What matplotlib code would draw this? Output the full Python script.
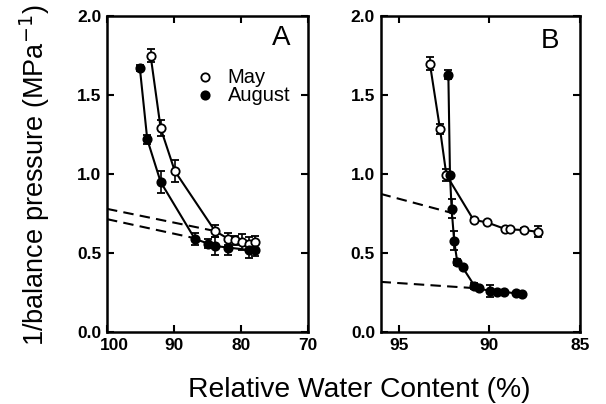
import matplotlib
matplotlib.use("Agg")
import matplotlib.pyplot as plt
import matplotlib.transforms as mtransforms

plt.rcParams['font.family'] = ['Liberation Sans', 'DejaVu Sans']

# Panel A data
a_may_x = [93.5, 92.0, 89.9, 83.9, 81.9, 80.9, 79.9, 78.9, 78.0]
a_may_y = [1.75, 1.29, 1.02, 0.64, 0.59, 0.58, 0.57, 0.56, 0.57]
a_may_err = [0.04, 0.05, 0.07, 0.04, 0.04, 0.03, 0.05, 0.04, 0.04]
a_aug_x = [95.1, 94.0, 92.0, 86.9, 84.9, 83.9, 81.9, 78.9, 78.0]
a_aug_y = [1.67, 1.22, 0.95, 0.59, 0.56, 0.545, 0.535, 0.52, 0.52]
a_aug_err = [0.02, 0.03, 0.07, 0.04, 0.03, 0.06, 0.05, 0.05, 0.04]
a_may_dash_x = [100, 84.5]
a_may_dash_y = [0.78, 0.645]
a_aug_dash_x = [100, 87.0]
a_aug_dash_y = [0.715, 0.595]

# Panel B data
b_may_x = [93.28, 92.72, 92.37, 90.87, 90.14, 89.11, 88.84, 88.10, 87.34]
b_may_y = [1.70, 1.285, 0.995, 0.71, 0.695, 0.652, 0.65, 0.646, 0.635]
b_may_err = [0.04, 0.03, 0.04, 0.01, 0.01, 0.01, 0.01, 0.01, 0.035]
b_aug_x = [92.26, 92.17, 92.08, 91.94, 91.77, 91.47, 90.82, 90.56, 89.96, 89.57, 89.18, 88.55, 88.18]
b_aug_y = [1.63, 0.995, 0.78, 0.578, 0.445, 0.409, 0.293, 0.276, 0.26, 0.255, 0.255, 0.245, 0.24]
b_aug_err = [0.03, 0.01, 0.06, 0.06, 0.02, 0.01, 0.02, 0.01, 0.04, 0.01, 0.01, 0.01, 0.01]
b_may_dash_x = [96, 91.6]
b_may_dash_y = [0.875, 0.74]
b_aug_dash_x = [96, 91.05]
b_aug_dash_y = [0.318, 0.28]

fig = plt.figure(figsize=(6.06, 4.04), dpi=100)
axA = fig.add_axes([0.1766, 0.178, 0.332, 0.782])
axB = fig.add_axes([0.628, 0.178, 0.329, 0.782])

def style(ax):
    for s in ax.spines.values():
        s.set_linewidth(1.8)
    ax.tick_params(direction='in', length=5, width=1.5, top=True, right=True,
                   labelsize=12.5, pad=4)
    for lab in ax.get_xticklabels():
        lab.set_fontweight('bold')
    ax.set_ylim(0, 2.0)
    ax.set_yticks([0.0, 0.5, 1.0, 1.5, 2.0])
    ax.set_yticklabels(['0.0', '0.5', '1.0', '1.5', '2.0'], fontweight='bold')

mk = dict(markersize=6, markeredgewidth=1.3, color='black', linewidth=1.5,
          capsize=3, elinewidth=1.2, capthick=1.2)

# Panel A
axA.errorbar(a_may_x, a_may_y, yerr=a_may_err, marker='o', markerfacecolor='white', **mk)
axA.errorbar(a_aug_x, a_aug_y, yerr=a_aug_err, marker='o', markerfacecolor='black', **mk)
axA.plot(a_may_dash_x, a_may_dash_y, ls=(0, (5, 3)), color='black', lw=1.5)
axA.plot(a_aug_dash_x, a_aug_dash_y, ls=(0, (5, 3)), color='black', lw=1.5)
axA.set_xlim(100, 70)
axA.set_xticks([100, 90, 80, 70])
axA.set_xticklabels(['100', '90', '80', '70'])
style(axA)
# the "100" label sits slightly right of its tick in the reference
first = axA.get_xticklabels()[0]
first.set_transform(first.get_transform() +
                    mtransforms.ScaledTranslation(7 / 100, 0, fig.dpi_scale_trans))
axA.text(0.866, 0.93, 'A', transform=axA.transAxes, fontsize=20, ha='center', va='center')
axA.plot([0.488], [0.807], marker='o', markerfacecolor='white', markeredgecolor='black',
         markersize=6, markeredgewidth=1.3, transform=axA.transAxes, ls='none')
axA.plot([0.488], [0.75], marker='o', markerfacecolor='black', markeredgecolor='black',
         markersize=6, markeredgewidth=1.3, transform=axA.transAxes, ls='none')
axA.text(0.6, 0.807, 'May', transform=axA.transAxes, fontsize=14.5, va='center')
axA.text(0.6, 0.75, 'August', transform=axA.transAxes, fontsize=14.5, va='center')

# Panel B
axB.errorbar(b_may_x, b_may_y, yerr=b_may_err, marker='o', markerfacecolor='white', **mk)
axB.errorbar(b_aug_x, b_aug_y, yerr=b_aug_err, marker='o', markerfacecolor='black', **mk)
axB.plot(b_may_dash_x, b_may_dash_y, ls=(0, (5, 3)), color='black', lw=1.5)
axB.plot(b_aug_dash_x, b_aug_dash_y, ls=(0, (5, 3)), color='black', lw=1.5)
axB.set_xlim(96, 85)
axB.set_xticks([95, 90, 85])
axB.set_xticklabels(['95', '90', '85'])
style(axB)
axB.text(0.85, 0.922, 'B', transform=axB.transAxes, fontsize=20, ha='center', va='center')

fig.text(0.057, 0.566, '1/balance pressure (MPa$^{-1}$)', fontsize=19.5, rotation=90,
         ha='center', va='center')
fig.text(0.592, 0.018, 'Relative Water Content (%)', fontsize=20.3, ha='center', va='baseline')

fig.savefig('out.png', dpi=100)
